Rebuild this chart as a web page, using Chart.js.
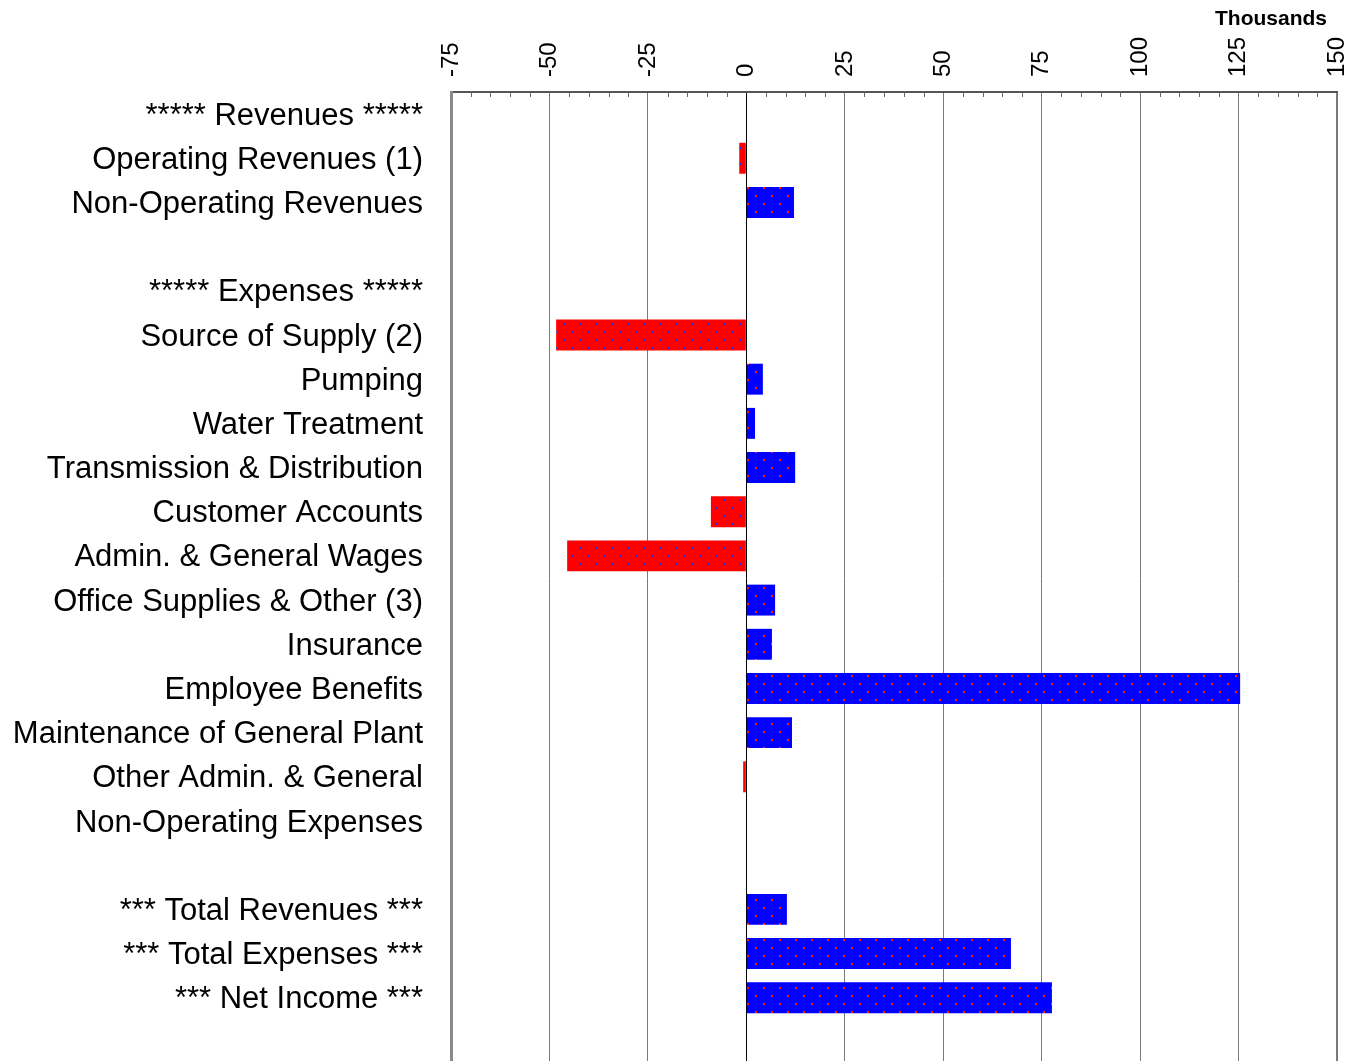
<!DOCTYPE html>
<html>
<head>
<meta charset="utf-8">
<script src="https://cdn.jsdelivr.net/npm/chart.js@4.4.1/dist/chart.umd.min.js"></script>
<style>
  html, body { margin: 0; padding: 0; background: #fff; overflow: hidden; }
  #wrap { position: relative; width: 1357px; height: 1072px; }
</style>
</head>
<body>
<div id="wrap"><canvas id="varianceChart"></canvas></div>
<script>
// Row labels (blank strings are spacer rows)
const categories = [
  "***** Revenues *****",
  "Operating Revenues (1)",
  "Non-Operating Revenues",
  "",
  "***** Expenses *****",
  "Source of Supply (2)",
  "Pumping",
  "Water Treatment",
  "Transmission & Distribution",
  "Customer Accounts",
  "Admin. & General Wages",
  "Office Supplies & Other (3)",
  "Insurance",
  "Employee Benefits",
  "Maintenance of General Plant",
  "Other Admin. & General",
  "Non-Operating Expenses",
  "",
  "*** Total Revenues ***",
  "*** Total Expenses ***",
  "*** Net Income ***",
  ""
];

// Variance, thousands
const variance = [
  null, -1.8, 12.1,
  null,
  null, -48.3, 4.2, 2.2, 12.4, -9.0, -45.5, 7.3, 6.5, 125.4, 11.6, -0.8, 0,
  null,
  10.3, 67.2, 77.6,
  null
];

const axisMin = -75;
const axisMax = 150;
const axisStep = 25;

function dotPattern(base, dot) {
  const c = document.createElement("canvas");
  c.width = 16;
  c.height = 16;
  const g = c.getContext("2d");
  g.fillStyle = base;
  g.fillRect(0, 0, 16, 16);
  g.fillStyle = dot;
  g.fillRect(3, 3, 2, 2);
  g.fillRect(11, 11, 2, 2);
  return g.createPattern(c, "repeat");
}

const redFill = dotPattern("#ff0000", "#3a2ad6");
const blueFill = dotPattern("#0000ff", "#ff1a1a");

// minor ticks inside the top axis + "Thousands" caption
const extras = {
  id: "extras",
  afterDraw(chart) {
    const ctx = chart.ctx;
    const x = chart.scales.x;
    const top = chart.chartArea.top;
    ctx.save();
    ctx.strokeStyle = "#666";
    ctx.lineWidth = 1;
    for (let v = axisMin; v <= axisMax; v += 5) {
      if (v % axisStep === 0) continue;
      const px = Math.round(x.getPixelForValue(v)) + 0.5;
      ctx.beginPath();
      ctx.moveTo(px, top);
      ctx.lineTo(px, top + 5);
      ctx.stroke();
    }
    ctx.fillStyle = "#000";
    ctx.font = "bold 21px 'Liberation Sans', Arial, sans-serif";
    ctx.textAlign = "right";
    ctx.textBaseline = "middle";
    ctx.fillText("Thousands", 1327, 19);
    ctx.restore();
  }
};

const ctx = document.getElementById("varianceChart").getContext("2d");
new Chart(ctx, {
  type: "bar",
  data: {
    labels: categories,
    datasets: [
      {
        data: variance,
        backgroundColor: (c) => (c.raw < 0 ? redFill : blueFill),
        borderWidth: 0,
        barPercentage: 0.7,
        categoryPercentage: 1.0,
      },
    ],
  },
  options: {
    indexAxis: "y",
    responsive: true,
    maintainAspectRatio: false,
    animation: false,
    layout: {
      padding: { left: 0, right: 20, top: 0, bottom: 8 },
    },
    plugins: {
      legend: { display: false },
      title: { display: false },
      tooltip: { enabled: false },
    },
    scales: {
      x: {
        position: "top",
        min: axisMin,
        max: axisMax,
        afterFit: (scale) => {
          scale.height = 92;
          scale.paddingLeft = 0;
          scale.paddingRight = 0;
        },
        ticks: {
          stepSize: axisStep,
          minRotation: 90,
          maxRotation: 90,
          padding: 15,
          labelOffset: 29,
          color: "#000",
          font: { family: "'Liberation Sans', Arial, sans-serif", size: 24 },
        },
        grid: {
          drawTicks: false,
          color: (c) => (c.tick && c.tick.value === 0 ? "#000" : "#7a7a7a"),
          lineWidth: (c) =>
            c.tick && (c.tick.value === axisMin || c.tick.value === axisMax) ? 2 : 1,
        },
        border: { display: true, color: "#555", width: 2 },
      },
      y: {
        afterFit: (scale) => {
          scale.width = 451;
          scale.paddingTop = 0;
          scale.paddingBottom = 0;
        },
        ticks: {
          padding: 28,
          labelOffset: 2,
          color: "#000",
          autoSkip: false,
          font: { family: "'Liberation Sans', Arial, sans-serif", size: 31 },
        },
        grid: { display: false, drawTicks: false },
        border: { display: true, color: "#8a8a8a", width: 3 },
      },
    },
  },
  plugins: [extras],
});
</script>
</body>
</html>
